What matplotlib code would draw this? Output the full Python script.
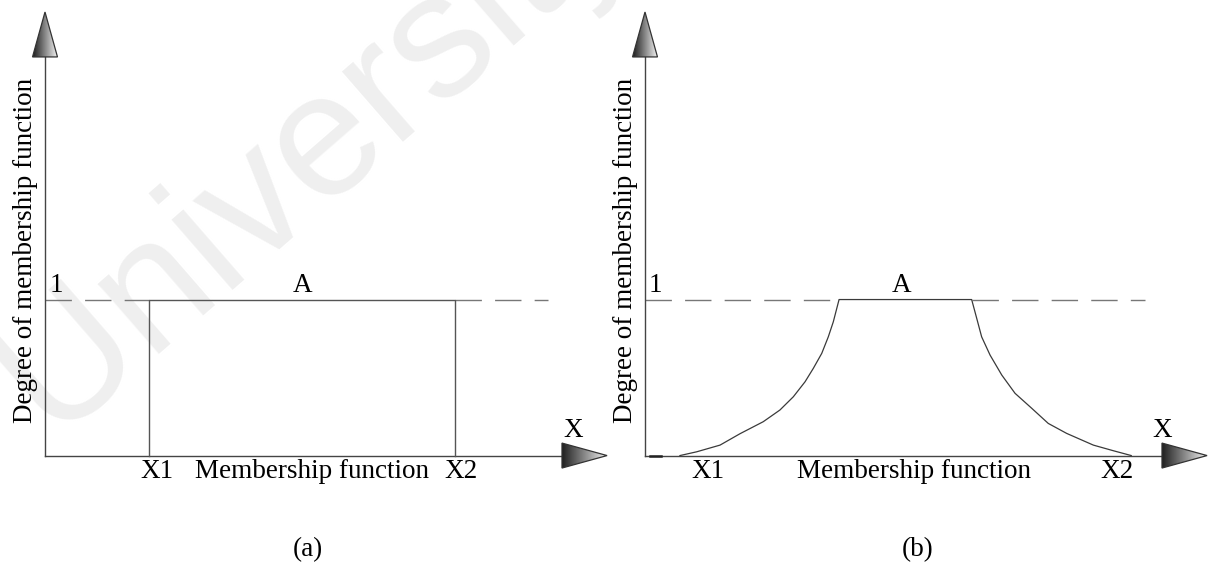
# membership function sketch, (a) crisp set and (b) fuzzy set
import matplotlib
matplotlib.use("Agg")
import matplotlib.pyplot as plt
from matplotlib.patches import Polygon
import numpy as np

# data (universe units, membership 0..1)
# panel (a): crisp interval
a_x1 = 0.667
a_x2 = 2.628
a_dash_end = 3.224

# panel (b): fuzzy set
b_rise_x = [0.224, 0.331, 0.481, 0.609, 0.758, 0.865, 0.951, 1.026, 1.079, 1.133, 1.175, 1.207, 1.229, 1.244]
b_rise_mu = [0.0, 0.024, 0.067, 0.14, 0.217, 0.292, 0.377, 0.473, 0.559, 0.655, 0.761, 0.857, 0.942, 1.0]
b_fall_x = [2.094, 2.126, 2.158, 2.212, 2.287, 2.372, 2.479, 2.585, 2.703, 2.874, 3.002, 3.117]
b_fall_mu = [1.0, 0.881, 0.761, 0.644, 0.516, 0.399, 0.303, 0.206, 0.142, 0.067, 0.031, 0.0]
b_dash_end = 3.205

# labels
ylabel = "Degree of membership function"
xlabel = "Membership function"
tick_labels = ["X1", "X2"]
a_label_x = [0.718, 2.667]
b_label_x = [0.404, 3.026]

# settings
serif = "Liberation Serif"
fsize = 19.5
line_col = "#555555"
axis_col = "#444444"
dash_col = "#777777"

fig = plt.figure(figsize=(12.15, 5.76), dpi=100)
fig.patch.set_facecolor("white")

# faint watermark behind everything
fig.text(0.258, 0.743, "University", rotation=41, ha="center", va="center",
         fontsize=127, color="#efefef", family="Liberation Sans", zorder=-1)


def gradient_triangle(ax, verts):
    poly = Polygon(verts, closed=True, facecolor="none", edgecolor="#333333", lw=0.9, zorder=4)
    ax.add_patch(poly)
    xs = [v[0] for v in verts]
    ys = [v[1] for v in verts]
    grad = np.linspace(0, 1, 256).reshape(1, -1)
    im = ax.imshow(grad, extent=[min(xs), max(xs), min(ys), max(ys)], cmap="gray",
                   vmin=-0.15, vmax=1.05, aspect="auto", zorder=3, interpolation="bilinear")
    im.set_clip_path(poly)


def draw_axes(ax, xlim, ylab_x):
    ax.set_xlim(*xlim)
    ax.set_ylim(-0.772, 2.920)
    ax.axis("off")
    ax.patch.set_alpha(0)
    # y axis + arrow
    ax.plot([0, 0], [0, 2.6], color=axis_col, lw=1.0, zorder=2)
    gradient_triangle(ax, [(-0.08, 2.555), (0.08, 2.555), (0, 2.843)])
    # x axis + arrow
    ax.plot([0, 3.314], [0, 0], color=axis_col, lw=1.0, zorder=2)
    gradient_triangle(ax, [(3.314, -0.08), (3.314, 0.08), (3.603, 0)])
    ax.text(ylab_x, 1.317, ylabel, rotation=90, ha="center", va="center",
            family=serif, fontsize=fsize)


def dashed_level(ax, x0, x1):
    ax.plot([x0, x1], [1, 1], color=dash_col, lw=1.0, dashes=(19, 9.5), zorder=1)


ax_a = fig.add_axes([0, 0, 0.5, 1])
draw_axes(ax_a, (-45 / 156, 562.5 / 156), -0.128)
dashed_level(ax_a, 0, a_x1)
dashed_level(ax_a, a_x2, a_dash_end)
ax_a.plot([a_x1, a_x1, a_x2, a_x2], [0, 1, 1, 0], color=line_col, lw=1.0, zorder=2)
ax_a.text(0.03, 1.01, "1", ha="left", va="bottom", family=serif, fontsize=fsize)
ax_a.text(1.654, 1.01, "A", ha="center", va="bottom", family=serif, fontsize=fsize)
ax_a.text(3.385, 0.163, "X", ha="center", va="center", family=serif, fontsize=fsize)
for lx, lab in zip(a_label_x, tick_labels):
    ax_a.text(lx, -0.02, lab, ha="center", va="top", family=serif, fontsize=fsize)
ax_a.text(1.712, -0.02, xlabel, ha="center", va="top", family=serif, fontsize=fsize)
ax_a.text(1.686, -0.606, "(a)", ha="center", va="center", family=serif, fontsize=fsize)

ax_b = fig.add_axes([0.5, 0, 0.5, 1])
draw_axes(ax_b, (-37.5 / 156, 570 / 156), -0.122)
dashed_level(ax_b, 0, b_rise_x[-1])
dashed_level(ax_b, b_fall_x[0], b_dash_end)
curve_x = b_rise_x + b_fall_x
curve_mu = b_rise_mu + b_fall_mu
ax_b.plot(curve_x, curve_mu, color="#3a3a3a", lw=0.9, zorder=2, solid_joinstyle="round")
ax_b.plot([0.03, 0.10], [0, 0], color="#222222", lw=1.8, zorder=2)  # little mark at origin
ax_b.text(0.02, 1.01, "1", ha="left", va="bottom", family=serif, fontsize=fsize)
ax_b.text(1.647, 1.01, "A", ha="center", va="bottom", family=serif, fontsize=fsize)
ax_b.text(3.314, 0.163, "X", ha="center", va="center", family=serif, fontsize=fsize)
for lx, lab in zip(b_label_x, tick_labels):
    ax_b.text(lx, -0.02, lab, ha="center", va="top", family=serif, fontsize=fsize)
ax_b.text(1.724, -0.02, xlabel, ha="center", va="top", family=serif, fontsize=fsize)
ax_b.text(1.75, -0.606, "(b)", ha="center", va="center", family=serif, fontsize=fsize)

fig.savefig("out.png", dpi=100)
